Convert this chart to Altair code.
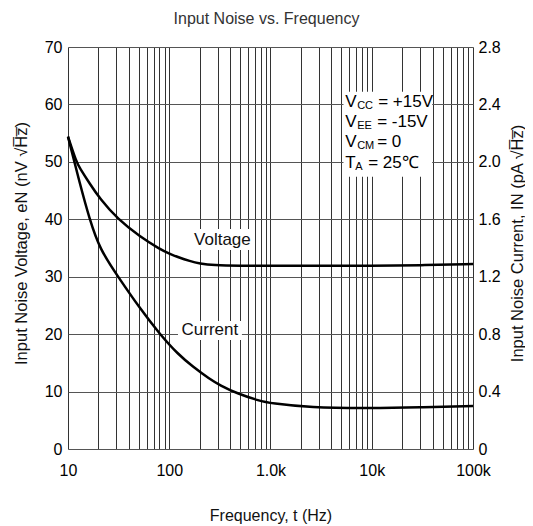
import altair as alt
import pandas as pd

# ---------------- data ----------------
volt_freq = [10, 12.1, 13, 16.4, 20.6, 31, 51.2, 80.7, 101, 122, 160, 200, 272, 500, 1000, 3000, 10000, 30000, 100000]
volt_nv = [54.4, 50.0, 49.0, 46.2, 43.6, 40.0, 37.0, 34.8, 34.0, 33.4, 32.7, 32.3, 32.0, 31.9, 31.9, 31.9, 31.9, 32.0, 32.2]

curr_freq = [10, 13.05, 16.4, 20.6, 31.2, 51.2, 80.7, 122, 172, 250, 317, 463, 787, 1000, 2450, 9600, 30000, 100000]
curr_pa = [2.176, 1.852, 1.596, 1.392, 1.20, 0.98, 0.80, 0.66, 0.572, 0.488, 0.444, 0.388, 0.334, 0.32, 0.288, 0.284, 0.29, 0.30]

grid_freq = [10, 20, 30, 40, 50, 60, 70, 80, 90,
             100, 200, 300, 400, 500, 600, 700, 800, 900,
             1000, 2000, 3000, 4000, 5000, 6000, 7000, 8000, 9000,
             10000, 20000, 30000, 40000, 50000, 60000, 70000, 80000, 90000,
             100000]
decade_values = [10, 100, 1000, 10000, 100000]
decade_labels = ["10", "100", "1.0k", "10k", "100k"]
left_ticks = [0, 10, 20, 30, 40, 50, 60, 70]
right_ticks = [0, 0.4, 0.8, 1.2, 1.6, 2.0, 2.4, 2.8]

curve_labels = ["Voltage", "Current"]
curve_label_f = [335, 252]
curve_label_v = [36.4, 20.8]
curve_box_f = [160, 122]
curve_box_f2 = [680, 522]
curve_box_v = [34.65, 18.98]
curve_box_v2 = [38.3, 22.3]

cond_main = ["V", "V", "V", "T"]
cond_sub = ["CC", "EE", "CM", "A"]
cond_rest = ["= +15V", "= -15V", "= 0", "= 25\u2103"]
cond_v = [60.47, 56.99, 53.40, 49.75]
cond_sub_dx = [12, 12, 12, 10]
cond_rest_dx = [33, 32, 32, 23]
cond_f = 5460
cond_box = {"f": [5260], "f2": [39500], "v": [47.4], "v2": [62.2]}

FONT = "Liberation Sans"

label_expr = " : ".join(f"datum.value == {v} ? '{l}'" for v, l in zip(decade_values, decade_labels)) + " : ''"

X = alt.X(
    "f:Q",
    scale=alt.Scale(type="log", domain=[10, 100000], nice=False),
    axis=alt.Axis(
        values=grid_freq, grid=True, gridColor="#333", gridWidth=1,
        ticks=False, domain=False, labelExpr=label_expr, labelOverlap=False,
        labelFlush=False, labelFontSize=16, labelPadding=13, labelColor="#000",
        labelFont=FONT,
        title="Frequency, t (Hz)", titleFont=FONT, titleFontSize=16,
        titleFontWeight="normal", titleColor="#111", titleY=66, titleBaseline="middle",
    ),
)
X2 = alt.X2("f2:Q")

YL = alt.Y(
    "v:Q",
    scale=alt.Scale(domain=[0, 70], nice=False),
    axis=alt.Axis(
        values=left_ticks, grid=True, gridColor="#555", gridWidth=1,
        ticks=False, domain=False, labelFontSize=16, labelPadding=6,
        labelColor="#000", labelFont=FONT,
        title="Input Noise Voltage, eN (nV \u221aH\u0305z\u0305)", titleFont=FONT,
        titleFontSize=16.5, titleFontWeight="normal", titleColor="#111",
        titleAngle=270, titleX=-46.5, titleY=196, titleBaseline="middle", titleAlign="center",
    ),
)
YL2 = alt.Y2("v2:Q")

YR = alt.Y(
    "c:Q",
    scale=alt.Scale(domain=[0, 2.8], nice=False),
    axis=alt.Axis(
        orient="right", values=right_ticks, grid=False, ticks=False, domain=False,
        labelExpr="datum.value == 0 ? '0' : format(datum.value, '.1f')",
        labelFontSize=16, labelPadding=5, labelColor="#000", labelFont=FONT,
        title="Input Noise Current, IN (pA \u221aH\u0305z\u0305)", titleFont=FONT,
        titleFontSize=16.5, titleFontWeight="normal", titleColor="#111",
        titleAngle=270, titleX=44.5, titleY=196, titleBaseline="middle", titleAlign="center",
    ),
)

volt_df = pd.DataFrame({"f": volt_freq, "v": volt_nv})
curr_df = pd.DataFrame({"f": curr_freq, "c": curr_pa})

volt_line = alt.Chart(volt_df).mark_line(color="black", strokeWidth=2.5, interpolate="basis").encode(x=X, y=YL)

boxes_df = pd.DataFrame({"f": curve_box_f + cond_box["f"], "f2": curve_box_f2 + cond_box["f2"],
                         "v": curve_box_v + cond_box["v"], "v2": curve_box_v2 + cond_box["v2"]})
boxes = alt.Chart(boxes_df).mark_rect(color="white").encode(x=X, x2=X2, y=YL, y2=YL2)

lbl_df = pd.DataFrame({"f": curve_label_f, "v": curve_label_v, "t": curve_labels})
curve_text = alt.Chart(lbl_df).mark_text(font=FONT, fontSize=17, color="#111", baseline="middle", align="center").encode(
    x=X, y=YL, text="t:N")

cond_layers = []
for m, s, r, v, sdx, rdx in zip(cond_main, cond_sub, cond_rest, cond_v, cond_sub_dx, cond_rest_dx):
    d = pd.DataFrame({"f": [cond_f], "v": [v], "m": [m], "s": [s], "r": [r]})
    base = alt.Chart(d)
    cond_layers.append(base.mark_text(font=FONT, fontSize=17, color="#000", align="left", baseline="middle").encode(x=X, y=YL, text="m:N"))
    cond_layers.append(base.mark_text(font=FONT, fontSize=11, color="#000", align="left", baseline="middle", dx=sdx, dy=4).encode(x=X, y=YL, text="s:N"))
    cond_layers.append(base.mark_text(font=FONT, fontSize=17, color="#000", align="left", baseline="middle", dx=rdx).encode(x=X, y=YL, text="r:N"))

left = alt.layer(volt_line, boxes, curve_text, *cond_layers)

curr_line = alt.Chart(curr_df).mark_line(color="black", strokeWidth=2.5, interpolate="basis").encode(x=X, y=YR)

chart = alt.layer(left, curr_line).resolve_scale(y="independent").properties(
    width=405, height=402,
    title=alt.TitleParams("Input Noise vs. Frequency", font=FONT, fontSize=16, fontWeight="normal",
                          color="#333", anchor="middle", baseline="middle", offset=4, dx=-4),
    autosize=alt.AutoSizeParams(type="none"),
    padding={"left": 60, "top": 39, "right": 52, "bottom": 75},
).configure_view(stroke="black", strokeWidth=1).configure(background="white")

chart.save("out.html", embed_options={"renderer": "svg", "actions": False})
